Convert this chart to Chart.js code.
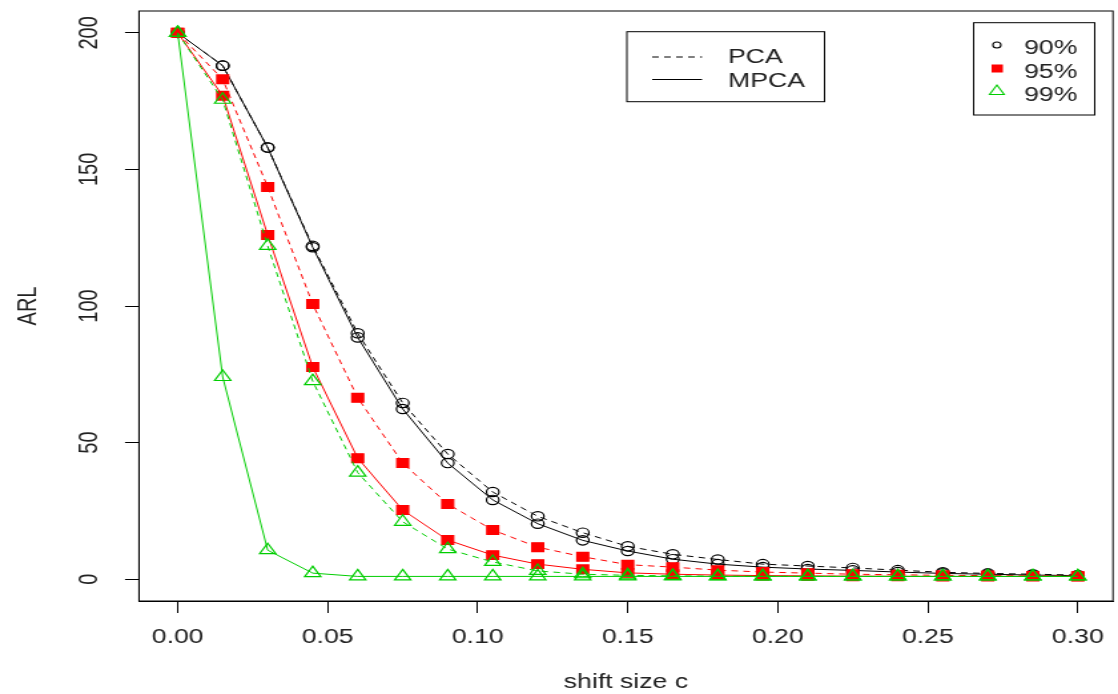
<!DOCTYPE html>
<html>
<head>
<meta charset="utf-8">
<script src="https://cdn.jsdelivr.net/npm/chart.js@4.4.1/dist/chart.umd.min.js"></script>
<style>
  html, body { margin: 0; padding: 0; background: #fff; overflow: hidden; }
  #arl { display: block; width: 1118px !important; height: 694px !important; }
</style>
</head>
<body>
<canvas id="arl" width="840" height="694" style="width:1118px;height:694px"></canvas>
<script>
// shift size c on the x axis
const shiftSize = [0, 0.015, 0.03, 0.045, 0.06, 0.075, 0.09, 0.105, 0.12, 0.135, 0.15,
  0.165, 0.18, 0.195, 0.21, 0.225, 0.24, 0.255, 0.27, 0.285, 0.30];

// ARL values
const pca90  = [200, 188, 158, 122, 90, 64.5, 45.8, 31.9, 23, 17, 12, 9.1, 7.2, 5.5, 4.8, 4.1, 3.3, 2.5, 2.1, 1.8, 1.5];
const mpca90 = [200, 188, 158, 121.5, 88.5, 62.3, 42.5, 29, 20.3, 14.2, 10.3, 7.3, 5.5, 4.4, 3.7, 3.2, 2.6, 2.1, 1.8, 1.5, 1.3];
const pca95  = [200, 183, 143.6, 100.7, 66.4, 42.5, 27.5, 18, 11.7, 8.2, 5.3, 4.4, 3.3, 2.6, 2.2, 1.8, 1.6, 1.4, 1.3, 1.2, 1.1];
const mpca95 = [200, 177, 126, 77.7, 44.3, 25.3, 14.3, 8.8, 5.5, 3.6, 2.3, 1.8, 1.5, 1.3, 1.2, 1.1, 1.05, 1, 1, 1, 1];
const pca99  = [200, 175.5, 122, 72.5, 39, 21, 11, 6.3, 3, 1.8, 1.4, 1.2, 1.1, 1.05, 1, 1, 1, 1, 1, 1, 1];
const mpca99 = [200, 74, 10.6, 2.2, 1, 1, 1, 1, 1, 1, 1, 1, 1, 1, 1, 1, 1, 1, 1, 1, 1];

const shiftTicks = [0, 0.05, 0.10, 0.15, 0.20, 0.25, 0.30];
const arlTicks = [0, 50, 100, 150, 200];

const methodLabels = ['PCA', 'MPCA'];
const levelLabels = ['90%', '95%', '99%'];

const BLACK = '#000000';
const RED = '#ff0000';
const GREEN = '#00cd00';
const TEXT = '#222222';
const FONT = 'Liberation Sans, Arial, sans-serif';
const DASH = [5, 4];

function toPoints(vals) {
  return vals.map((v, i) => ({ x: shiftSize[i], y: v }));
}

function series(label, vals, color, dashed, style, radius, filled, order) {
  return {
    label: label,
    data: toPoints(vals),
    borderColor: color,
    borderWidth: 1,
    borderDash: dashed ? DASH : [],
    pointStyle: style,
    pointRadius: radius,
    pointBorderWidth: 1.2,
    pointBorderColor: color,
    pointBackgroundColor: filled ? color : 'rgba(0,0,0,0)',
    fill: false,
    tension: 0,
    order: order,
  };
}

// box round the plotting region
const framePlugin = {
  id: 'frame',
  afterDraw(chart) {
    const { ctx, chartArea: a } = chart;
    ctx.save();
    ctx.strokeStyle = '#000';
    ctx.lineWidth = 1;
    ctx.strokeRect(a.left, a.top, a.right - a.left, a.bottom - a.top);
    ctx.restore();
  }
};

// the two legend boxes of the original figure
const legendBoxes = {
  id: 'legendBoxes',
  afterDraw(chart) {
    const ctx = chart.ctx;
    ctx.save();
    ctx.strokeStyle = '#000';
    ctx.lineWidth = 1;
    ctx.fillStyle = '#fff';

    // line type box
    ctx.fillRect(471, 31.7, 148.5, 70);
    ctx.strokeRect(471, 31.7, 148.5, 70);
    ctx.beginPath();
    ctx.setLineDash(DASH);
    ctx.moveTo(490, 57); ctx.lineTo(527.5, 57);
    ctx.stroke();
    ctx.beginPath();
    ctx.setLineDash([]);
    ctx.moveTo(490, 79.5); ctx.lineTo(527.5, 79.5);
    ctx.stroke();

    ctx.fillStyle = TEXT;
    ctx.font = '20px ' + FONT;
    ctx.textBaseline = 'middle';
    ctx.textAlign = 'left';
    ctx.fillText(methodLabels[0], 547, 57.5);
    ctx.fillText(methodLabels[1], 547, 81);

    // confidence level box
    ctx.fillStyle = '#fff';
    ctx.fillRect(731.5, 22.7, 91, 92.3);
    ctx.strokeRect(731.5, 22.7, 91, 92.3);

    ctx.strokeStyle = BLACK;
    ctx.lineWidth = 1.1;
    ctx.beginPath();
    ctx.arc(749, 45, 3, 0, Math.PI * 2);
    ctx.stroke();

    ctx.fillStyle = RED;
    ctx.fillRect(745, 64.5, 8.5, 8);

    ctx.strokeStyle = GREEN;
    ctx.beginPath();
    ctx.moveTo(749, 85);
    ctx.lineTo(754.5, 94.5);
    ctx.lineTo(743.5, 94.5);
    ctx.closePath();
    ctx.stroke();

    ctx.fillStyle = TEXT;
    ctx.fillText(levelLabels[0], 769.5, 48.5);
    ctx.fillText(levelLabels[1], 769.5, 72);
    ctx.fillText(levelLabels[2], 769.5, 95);
    ctx.restore();
  }
};

const ctx = document.getElementById('arl').getContext('2d');
new Chart(ctx, {
  type: 'line',
  data: {
    datasets: [
      series('PCA 90%', pca90, BLACK, true, 'circle', 4.7, false, 4),
      series('MPCA 90%', mpca90, BLACK, false, 'circle', 4.7, false, 5),
      series('PCA 95%', pca95, RED, true, 'rect', 6.2, true, 2),
      series('MPCA 95%', mpca95, RED, false, 'rect', 6.2, true, 3),
      series('PCA 99%', pca99, GREEN, true, 'triangle', 7, false, 0),
      series('MPCA 99%', mpca99, GREEN, false, 'triangle', 7, false, 1),
    ],
  },
  options: {
    responsive: false,
    animation: false,
    devicePixelRatio: 1,
    layout: { autoPadding: false, padding: { top: 11, right: 3.8, left: 0, bottom: 0 } },
    scales: {
      x: {
        type: 'linear',
        min: -0.0129,
        max: 0.3117,
        afterBuildTicks: (s) => { s.ticks = shiftTicks.map(v => ({ value: v })); },
        afterFit: (s) => {
          s.height = 93;
          s.paddingLeft = 0;
          s.paddingRight = 0;
        },
        grid: { drawOnChartArea: false, drawTicks: true, tickLength: 12, color: '#000' },
        border: { display: true, color: '#000' },
        ticks: {
          color: TEXT,
          font: { family: FONT, size: 20 },
          padding: 12,
          autoSkip: false,
          maxRotation: 0,
          callback: (v) => Number(v).toFixed(2),
        },
        title: {
          display: true,
          text: 'shift size c',
          color: TEXT,
          font: { family: FONT, size: 20 },
          padding: { top: 0, bottom: 0 },
        },
      },
      y: {
        type: 'linear',
        min: -8,
        max: 208,
        afterBuildTicks: (s) => { s.ticks = arlTicks.map(v => ({ value: v })); },
        afterFit: (s) => {
          s.width = 104.4;
          s.paddingTop = 0;
          s.paddingBottom = 0;
        },
        grid: { drawOnChartArea: false, drawTicks: true, tickLength: 10.5, color: '#000' },
        border: { display: true, color: '#000' },
        ticks: {
          color: TEXT,
          font: { family: FONT, size: 20 },
          padding: 9.5,
          minRotation: 90,
          maxRotation: 90,
          crossAlign: 'center',
        },
        title: {
          display: true,
          text: 'ARL',
          color: TEXT,
          font: { family: FONT, size: 20 },
          padding: { top: 9, bottom: 0 },
        },
      },
    },
    plugins: {
      legend: { display: false },
      tooltip: { enabled: false },
    },
  },
  plugins: [framePlugin, legendBoxes],
});
</script>
</body>
</html>
